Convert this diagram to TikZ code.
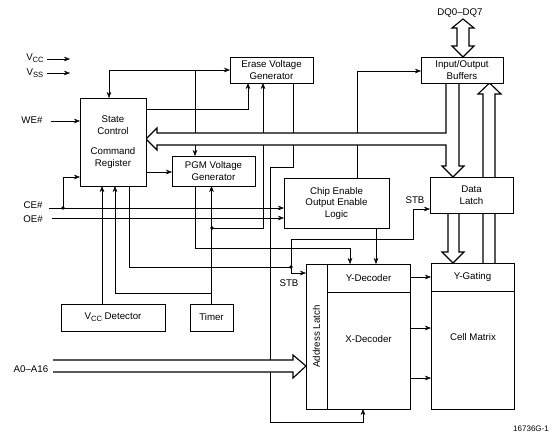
\documentclass[tikz,border=0pt]{standalone}
\usepackage{fontspec}
\setmainfont{Liberation Sans}
\usetikzlibrary{arrows.meta,backgrounds}
\newcommand{\lowsub}[1]{\raisebox{-2.2pt}{\fontsize{7.6}{8}\selectfont #1}}
\begin{document}
\begin{tikzpicture}[x=1pt,y=-1pt, line width=0.8pt,
  every node/.style={font=\fontsize{9.7}{11.5}\selectfont},
  box/.style={draw, fill=white, inner sep=0pt, outer sep=0pt, align=center},
  arr/.style={-{Stealth[length=6pt,width=4.5pt]}},
  jdot/.style={circle, fill, inner sep=0pt, minimum size=3.6pt},
  busfill/.style={fill=white},
  busline/.style={draw=black, line width=1.15pt, line join=miter}]
\useasboundingbox (0,0) rectangle (558,437);

% ---------- boxes ----------
\node[box, minimum width=66pt, minimum height=88pt] (sc) at (113,142) {State\\Control\\[9pt]Command\\Register};
\node[box, minimum width=83pt, minimum height=26pt] (erase) at (271.5,70) {Erase Voltage\\Generator};
\node[box, minimum width=82pt, minimum height=26pt] (io) at (462,70) {Input/Output\\Buffers};
\node[box, minimum width=83pt, minimum height=30pt] (pgm) at (213.5,171) {PGM Voltage\\Generator};
\node[box, minimum width=105pt, minimum height=50pt] (ce) at (336.5,203) {Chip Enable\\Output Enable\\Logic};
\node[box, minimum width=83pt, minimum height=36pt] (dl) at (471.5,195) {Data\\Latch};
\node[box, minimum width=21pt, minimum height=145pt] (al) at (316.5,336.5) {};
\node[rotate=90] at (al) {Address Latch};
\node[box, minimum width=83pt, minimum height=28pt] (ydec) at (368.5,278) {Y-Decoder};
\node[box, minimum width=83pt, minimum height=117pt] (xdec) at (368.5,350.5) {};
\node at (368.5,339) {X-Decoder};
\node[box, minimum width=83pt, minimum height=28pt] (yg) at (472.5,277) {Y-Gating};
\node[box, minimum width=83pt, minimum height=118pt] (cm) at (472.5,350) {};
\node at (473,337) {Cell Matrix};
\node[box, minimum width=104pt, minimum height=27pt] (vccd) at (113,317.5) {V\lowsub{CC} Detector};
\node[box, minimum width=43pt, minimum height=27pt] (timer) at (211.5,317.5) {Timer};

% ---------- labels ----------
\node (lvcc) at (35,58) {V\lowsub{CC}};
\node (lvss) at (35,73) {V\lowsub{SS}};
\node (lwe) at (32,120) {WE\#};
\node (lce) at (33,205) {CE\#};
\node (loe) at (33,219) {OE\#};
\node (la) at (31,369) {A0–A16};
\node (ldq) at (460,13) {DQ0–DQ7};
\node (lstb1) at (415,200) {STB};
\node (lstb2) at (289,283) {STB};
\node[font=\fontsize{8}{9}\selectfont] (lfig) at (531,429) {16736G-1};

\coordinate (j1) at (63,208);
\coordinate (j2) at (212,228);
\coordinate (j3) at (291,267);

\begin{pgfonlayer}{background}
% input arrows
\draw[arr] (47,59) -- (70,59);
\draw[arr] (47,73) -- (70,73);
\draw[arr] (51,121) -- (sc.west |- 0,121);
\draw[arr] (49,208) -- (ce.west |- 0,208);
\draw[arr] (52,218) -- (ce.west |- 0,218);
\draw[arr] (j1) -- (63,177) -- (sc.west |- 0,177);

% top control net
\draw[arr] (109,70) -- (sc.north -| 109,0);
\draw[arr] (109,70) -- (erase.west);
\draw[arr] (195,70) -- (pgm.north -| 195,0);
\draw[arr] (sc.east |- 0,109) -- (248,109) -- (erase.south -| 248,0);
\draw[arr] (sc.east |- 0,172) -- (pgm.west |- 0,172);

% timer net
\draw[arr] (timer.north) -- (timer.north |- pgm.south);
\draw[arr] (212,293) -- (115,293) -- (sc.south -| 115,0);
\draw[arr] (j2) -- (263,228) -- (erase.south -| 263,0);

% Vcc detector
\draw[arr] (vccd.north -| 102,0) -- (sc.south -| 102,0);

% STB net
\draw (sc.south -| 129,0) -- (129,267) -- (j3);
\draw[arr] (j3) -- (291,239) -- (413,239) -- (413,209) -- (dl.west |- 0,209);
\draw[arr] (j3) -- (291,273) -- (al.west |- 0,273);

% PGM to Y-decoder
\draw[arr] (pgm.south -| 195,0) -- (195,248) -- (350,248) -- (ydec.north -| 350,0);
% erase to X-decoder
\draw[arr] (erase.south -| 293,0) -- (293,167) -- (270,167) -- (270,422) -- (363,422) -- (xdec.south -| 363,0);
% CE logic
\draw[arr] (ce.north -| 357,0) -- (357,71) -- (io.west |- 0,71);
\draw[arr] (ce.south -| 376,0) -- (ydec.north -| 376,0);
% decoders to array
\draw[arr] (ydec.east |- 0,277) -- (yg.west |- 0,277);
\draw[arr] (xdec.east |- 0,328) -- (cm.west |- 0,328);
\draw[arr] (xdec.east |- 0,378) -- (cm.west |- 0,378);

% ---------- buses: white body ----------
\fill[busfill] (io.south -| 446,0) -- (446,133) -- (157,133) -- (157,128) -- (sc.east |- 0,139)
  -- (157,150) -- (157,145) -- (446,145) -- (446,166) -- (442,166) -- (dl.north -| 453,0)
  -- (464,166) -- (459,166) -- (io.south -| 459,0) -- cycle;
\fill[busfill] (yg.north -| 483,0) -- (483,94) -- (478,94) -- (io.south -| 489.5,0) -- (501,94)
  -- (495,94) -- (yg.north -| 495,0) -- cycle;
\fill[busfill] (dl.south -| 448,0) -- (448,252) -- (442,252) -- (yg.north -| 453,0) -- (464,252)
  -- (459,252) -- (dl.south -| 459,0) -- cycle;
\fill[busfill] (457,28) -- (452,28) -- (463,19) -- (474,28) -- (469,28) -- (469,46) -- (474,46)
  -- (io.north -| 463,0) -- (452,46) -- (457,46) -- cycle;
\fill[busfill] (53,360) -- (293,360) -- (293,355) -- (al.west |- 0,366) -- (293,378) -- (293,372) -- (53,372) -- cycle;
% ---------- buses: outlines ----------
\draw[busline] (io.south -| 446,0) -- (446,133) -- (157,133) -- (157,128) -- (sc.east |- 0,139)
  -- (157,150) -- (157,145) -- (446,145) -- (446,166) -- (442,166) -- (dl.north -| 453,0)
  -- (464,166) -- (459,166) -- (io.south -| 459,0);
\draw[busline] (yg.north -| 483,0) -- (483,94) -- (478,94) -- (io.south -| 489.5,0) -- (501,94)
  -- (495,94) -- (yg.north -| 495,0);
\draw[busline] (dl.south -| 448,0) -- (448,252) -- (442,252) -- (yg.north -| 453,0) -- (464,252)
  -- (459,252) -- (dl.south -| 459,0);
\draw[busline] (457,28) -- (452,28) -- (463,19) -- (474,28) -- (469,28) -- (469,46) -- (474,46)
  -- (io.north -| 463,0) -- (452,46) -- (457,46) -- cycle;
\draw[busline] (53,360) -- (293,360) -- (293,355) -- (al.west |- 0,366) -- (293,378) -- (293,372) -- (53,372);
\end{pgfonlayer}

\node[jdot] at (j1) {};
\node[jdot] at (j2) {};
\node[jdot] at (j3) {};
\end{tikzpicture}
\end{document}
